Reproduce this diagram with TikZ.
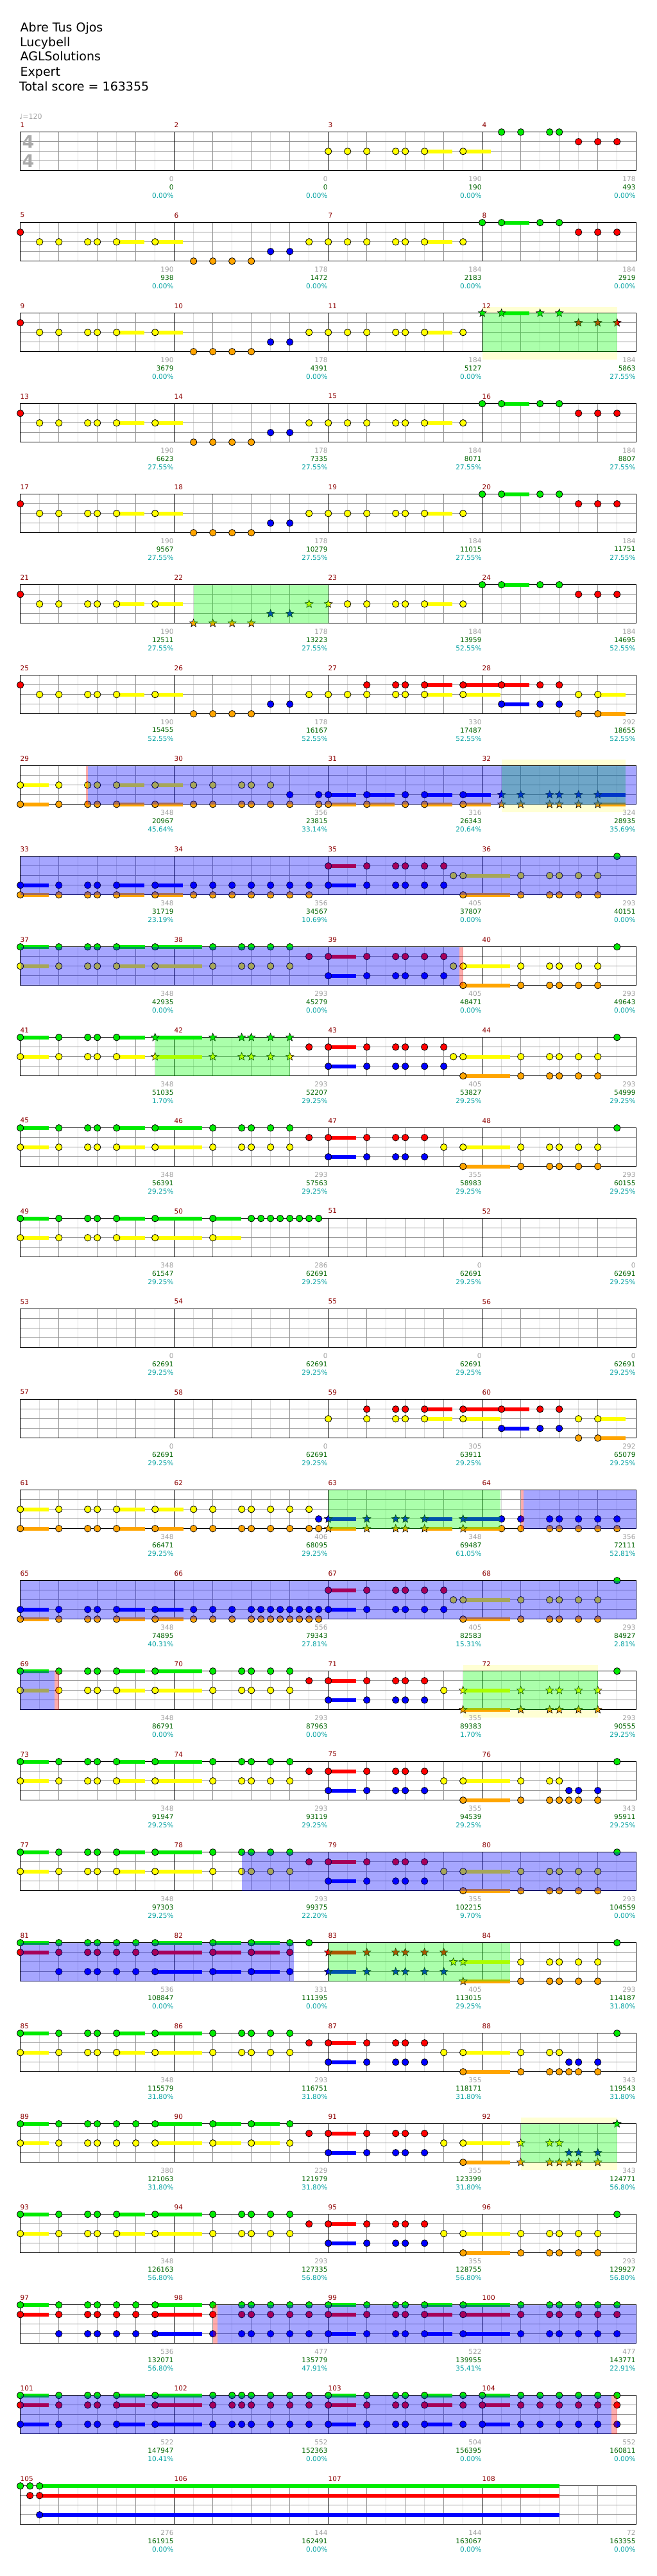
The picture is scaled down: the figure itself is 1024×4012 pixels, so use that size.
\documentclass[tikz,border=0pt]{standalone}
\usepackage{fontspec}
\setmainfont{DejaVu Sans}
\usetikzlibrary{shapes.geometric}
\definecolor{cG}{RGB}{0,235,0}
\definecolor{cR}{RGB}{255,0,0}
\definecolor{cY}{RGB}{255,255,0}
\definecolor{cB}{RGB}{0,0,255}
\definecolor{cO}{RGB}{255,165,0}
\definecolor{mred}{RGB}{139,0,0}
\definecolor{lgray}{RGB}{160,160,160}
\definecolor{lgreen}{RGB}{0,100,0}
\definecolor{lteal}{RGB}{0,160,160}
\definecolor{gridg}{RGB}{150,150,150}
\definecolor{gridl}{RGB}{218,218,218}
\definecolor{ybg}{RGB}{255,255,212}
\definecolor{tsig}{RGB}{170,170,170}
\tikzset{
  notec/.style={draw=black,line width=0.8pt},
  starn/.style={star,star points=5,star point ratio=2.3,minimum size=13pt,inner sep=0pt,draw=black,line width=0.6pt},
  mnum/.style={text=mred,font=\fontsize{10.5}{11}\selectfont,anchor=west,inner sep=0pt},
  lab/.style={font=\fontsize{10.5}{11}\selectfont,anchor=east,inner sep=0pt},
  hdr/.style={font=\fontsize{19}{20}\selectfont,anchor=base west,inner sep=0pt},
  hbeat/.style={draw=gridl,line width=0.8pt},
  laneln/.style={draw=gridg,line width=1pt},
  beatln/.style={draw=gridg,line width=1pt},
  measln/.style={draw=black,line width=1.2pt},
}
\newcommand\Rw[1]{\pgfmathsetmacro\ry{205.7+141*(#1-1)}}
\newcommand\Ln[3]{\foreach \xa/\xb in {#3}{%
  \pgfmathtruncatemacro\hs{(\xb>\xa)}%
  \ifnum\hs=1 \fill[#2] ({31.7+15*\xa},{\ry+15*#1-3.2}) rectangle ({31.7+15*\xb},{\ry+15*#1+3.2});\fi
  \filldraw[notec,fill=#2] ({31.7+15*\xa},{\ry+15*#1}) circle (5.2);}}
\newcommand\Ls[3]{\foreach \xa/\xb in {#3}{%
  \pgfmathtruncatemacro\hs{(\xb>\xa)}%
  \ifnum\hs=1 \fill[#2] ({31.7+15*\xa},{\ry+15*#1-3.2}) rectangle ({31.7+15*\xb},{\ry+15*#1+3.2});\fi
  \node[starn,fill=#2] at ({31.7+15*\xa},{\ry+15*#1}) {};}}
\newcommand\Og[2]{\fill[green,opacity=0.33] ({31.7+15*#1},{\ry}) rectangle ({31.7+15*#2},{\ry+60});}
\newcommand\Ob[2]{\fill[blue,opacity=0.35] ({31.7+15*#1},{\ry}) rectangle ({31.7+15*#2},{\ry+60});}
\newcommand\Op[2]{\fill[red,opacity=0.33] ({31.7+15*#1},{\ry}) rectangle ({31.7+15*#2},{\ry+60});}
\newcommand\Yb[3]{\fill[ybg] ({31.7+15*#2},{205.7+141*(#1-1)-10}) rectangle ({31.7+15*#3},{205.7+141*(#1-1)+72});}
\newcommand\Labs[1]{\foreach \la/\lb/\lc [count=\mi] in {#1}{%
  \node[lab,text=lgray] at ({31.7+240*\mi-1},{\ry+72.5}) {\la};
  \node[lab,text=lgreen] at ({31.7+240*\mi-1},{\ry+85.5}) {\lb};
  \node[lab,text=lteal] at ({31.7+240*\mi-1},{\ry+98.5}) {\lc};}}
% patterns
\newcommand\PA{\Ln{1}{cR}{0}\Ln{2}{cY}{2,4,7,8,10/12.9,14/16.9}\Ln{4}{cO}{18,20,22,24}\Ln{3}{cB}{26,28}}
\newcommand\PB{\Ln{2}{cY}{30,32,34,36,39,40,42/44.9,46}}
\newcommand\PC{\Ln{0}{cG}{48,50/52.9,54,56}\Ln{1}{cR}{58,60,62}}
\newcommand\PD{\Ln{0}{cG}{0/2.95,4,7,8,10/12.95,14/18.9,20,23,24,26,28,62}
  \Ln{2}{cY}{0/2.95,4,7,8,10/12.95,14/18.9,20,23,24,26,28,44,46/50.9,52,55,56,58,60}
  \Ln{1}{cR}{30,32/34.9,36,39,40,42}
  \Ln{3}{cB}{32/34.9,36,39,40,42}
  \Ln{4}{cO}{46/50.9,52,55,56,58,60}}
\newcommand\PE{\Ln{0}{cG}{0/2.95,4,7,8,10/12.95,14/18.9,20,23,24,26,28,62}
  \Ln{2}{cY}{0/2.95,4,7,8,10/12.95,14/18.9,20,23,24,26,28,44,46/50.9,52,55,56}
  \Ln{1}{cR}{30,32/34.9,36,39,40,42}
  \Ln{3}{cB}{32/34.9,36,39,40,42,57,58,60}
  \Ln{4}{cO}{46/50.9,52,55,56,57,58,60}}
\begin{document}
\begin{tikzpicture}[x=1pt,y=-1pt]
\useasboundingbox (0,0) rectangle (1024,4012);
% header
\node[hdr] (t1) at (31.5,49.3) {Abre Tus Ojos};
\node[hdr] (t2) at (31,72.3) {Lucybell};
\node[hdr] (t3) at (31.5,95) {AGLSolutions};
\node[hdr] (t4) at (31.5,118.3) {Expert};
\node[hdr] (t5) at (30,141.7) {Total score = 163355};
\node[anchor=west,inner sep=0pt,text=lgray,font=\fontsize{11}{11}\selectfont] (tempo) at (30,181) {♩=120};
% yellow backgrounds
\Yb{3}{48}{62}
\Yb{8}{50}{62.9}
\Yb{18}{46}{60}
\Yb{23}{52}{62}
% grids
\foreach \r in {1,...,27}{
  \pgfmathsetmacro\yy{205.7+141*(\r-1)}
  \fill[white] (31.7,{\yy}) rectangle (991.7,{\yy+60});
  \foreach \k in {0,...,15} \draw[hbeat] ({31.7+30*(2*\k+1)},{\yy}) -- ++(0,60);
  \foreach \l in {1,2,3} \draw[laneln] (31.7,{\yy+15*\l}) -- (991.7,{\yy+15*\l});
  \foreach \k in {1,2,3,5,6,7,9,10,11,13,14,15} \draw[beatln] ({31.7+60*\k},{\yy}) -- ++(0,60);
  \foreach \k in {1,2,3} \draw[measln] ({31.7+240*\k},{\yy}) -- ++(0,60);
  \draw[measln] (31.7,{\yy}) rectangle (991.7,{\yy+60});
  \foreach \m in {0,1,2,3}{
    \pgfmathtruncatemacro\mn{4*(\r-1)+\m+1}
    \node[mnum] (m\mn) at ({31.5+240*\m},{\yy-11.5}) {\mn};}
}
\node[text=tsig,font=\fontsize{27}{27}\bfseries\selectfont,inner sep=0pt] (ts1) at (44,221) {4};
\node[text=tsig,font=\fontsize{27}{27}\bfseries\selectfont,inner sep=0pt] (ts2) at (44,251) {4};
% row 1
\Rw{1}
\Ln{2}{cY}{32,34,36,39,40,42/44.9,46/48.9}
\Ln{0}{cG}{50,52,55,56}
\Ln{1}{cR}{58,60,62}
\Labs{0/0/0.00\%,0/0/0.00\%,190/190/0.00\%,178/493/0.00\%}
% row 2
\Rw{2}\PA\PB\PC
\Labs{190/938/0.00\%,178/1472/0.00\%,184/2183/0.00\%,184/2919/0.00\%}
% row 3
\Rw{3}\PA\PB
\Ls{0}{cG}{48,50/52.9,54,56}\Ls{1}{cR}{58,60,62}\Og{48}{62}
\Labs{190/3679/0.00\%,178/4391/0.00\%,184/5127/0.00\%,184/5863/27.55\%}
% row 4
\Rw{4}\PA\PB\PC
\Labs{190/6623/27.55\%,178/7335/27.55\%,184/8071/27.55\%,184/8807/27.55\%}
% row 5
\Rw{5}\PA\PB\PC
\Labs{190/9567/27.55\%,178/10279/27.55\%,184/11015/27.55\%,184/11751/27.55\%}
% row 6
\Rw{6}
\Ln{1}{cR}{0}\Ln{2}{cY}{2,4,7,8,10/12.9,14/16.9}
\Ls{4}{cO}{18,20,22,24}\Ls{3}{cB}{26,28}\Ls{2}{cY}{30,32}
\Ln{2}{cY}{34,36,39,40,42/44.9,46}\PC\Og{18}{32}
\Labs{190/12511/27.55\%,178/13223/27.55\%,184/13959/52.55\%,184/14695/52.55\%}
% row 7
\Rw{7}\PA
\Ln{2}{cY}{30,32,34,36,39,40,42/44.9,46/49.9,58,60/62.9}
\Ln{1}{cR}{36,39,40,42/44.9,46/49.9,50/52.9,54,56}
\Ln{3}{cB}{50/52.9,54,56}
\Ln{4}{cO}{58,60/62.9}
\Labs{190/15455/52.55\%,178/16167/52.55\%,330/17487/52.55\%,292/18655/52.55\%}
% row 8
\Rw{8}
\Ln{2}{cY}{0/2.95,4,7,8,10/12.9,14/16.9,18,20,23,24,26}
\Ln{4}{cO}{0/2.95,4,7,8,10/12.9,14/16.9,18,20,23,24,26,28,31,32/34.9,36/38.9,40,42/44.9,46/48.9}
\Ls{4}{cO}{50,52,55,56,58,60/62.9}
\Ln{3}{cB}{28,31,32/34.9,36/38.9,40,42/44.9,46/48.9}
\Ls{3}{cB}{50,52,55,56,58,60/62.9}
\Og{50}{62.9}\Op{6.85}{7.05}\Ob{7.05}{64}
\Labs{348/20967/45.64\%,356/23815/33.14\%,316/26343/20.64\%,324/28935/35.69\%}
% row 9
\Rw{9}
\Ln{3}{cB}{0/2.95,4,7,8,10/12.9,14/16.9,18,20,22,24,26,28,30,32/34.9,36,39,40,42,44}
\Ln{4}{cO}{0/2.95,4,7,8,10/12.9,14/16.9,18,20,22,24,26,28,30,46/50.9,52,55,56,58,60}
\Ln{1}{cR}{32/34.9,36,39,40,42,44}
\Ln{2}{cY}{45,46/50.9,52,55,56,58,60}
\Ln{0}{cG}{62}
\Ob{0}{64}
\Labs{348/31719/23.19\%,356/34567/10.69\%,405/37807/0.00\%,293/40151/0.00\%}
% row 10
\Rw{10}
\Ln{0}{cG}{0/2.95,4,7,8,10/12.95,14/18.9,20,23,24,26,28,62}
\Ln{2}{cY}{0/2.95,4,7,8,10/12.95,14/18.9,20,23,24,26,28,45,46/50.9,52,55,56,58,60}
\Ln{1}{cR}{30,32/34.9,36,39,40,42,44}
\Ln{3}{cB}{32/34.9,36,39,40,42,44}
\Ln{4}{cO}{46/50.9,52,55,56,58,60}
\Ob{0}{45.6}\Op{45.6}{46}
\Labs{348/42935/0.00\%,293/45279/0.00\%,405/48471/0.00\%,293/49643/0.00\%}
% row 11
\Rw{11}
\Ln{0}{cG}{0/2.95,4,7,8,10/12.95,62}\Ls{0}{cG}{14/18.9,20,23,24,26,28}
\Ln{2}{cY}{0/2.95,4,7,8,10/12.95,45,46/50.9,52,55,56,58,60}\Ls{2}{cY}{14/18.9,20,23,24,26,28}
\Ln{1}{cR}{30,32/34.9,36,39,40,42,44}
\Ln{3}{cB}{32/34.9,36,39,40,42,44}
\Ln{4}{cO}{46/50.9,52,55,56,58,60}
\Og{14}{28}
\Labs{348/51035/1.70\%,293/52207/29.25\%,405/53827/29.25\%,293/54999/29.25\%}
% row 12
\Rw{12}\PD
\Labs{348/56391/29.25\%,293/57563/29.25\%,355/58983/29.25\%,293/60155/29.25\%}
% row 13
\Rw{13}
\Ln{0}{cG}{0/2.95,4,7,8,10/12.95,14/18.9,20/22.95,24,25,26,27,28,29,30,31}
\Ln{2}{cY}{0/2.95,4,7,8,10/12.95,14/18.9,20/22.95}
\Labs{348/61547/29.25\%,286/62691/29.25\%,0/62691/29.25\%,0/62691/29.25\%}
% row 14
\Rw{14}
\Labs{0/62691/29.25\%,0/62691/29.25\%,0/62691/29.25\%,0/62691/29.25\%}
% row 15
\Rw{15}
\Ln{2}{cY}{32,36,39,40,42/44.9,46/49.9,58,60/62.9}
\Ln{1}{cR}{36,39,40,42/44.9,46/49.9,50/52.9,54,56}
\Ln{3}{cB}{50/52.9,54,56}
\Ln{4}{cO}{58,60/62.9}
\Labs{0/62691/29.25\%,0/62691/29.25\%,305/63911/29.25\%,292/65079/29.25\%}
% row 16
\Rw{16}
\Ln{2}{cY}{0/2.95,4,7,8,10/12.95,14/16.95,18,20,23,24,26,28,30}
\Ln{4}{cO}{0/2.95,4,7,8,10/12.95,14/16.95,18,20,23,24,26,28,30,31,50,52,55,56,58,60,62}
\Ls{4}{cO}{32/34.9,36,39,40,42/44.9,46/49.9}
\Ln{3}{cB}{31,50,52,55,56,58,60,62}
\Ls{3}{cB}{32/34.9,36,39,40,42/44.9,46/49.9}
\Og{32}{49.9}\Op{52}{52.3}\Ob{52.3}{64}
\Labs{348/66471/29.25\%,406/68095/29.25\%,348/69487/61.05\%,356/72111/52.81\%}
% row 17
\Rw{17}
\Ln{3}{cB}{0/2.95,4,7,8,10/12.95,14/16.95,18,20,22,24,25,26,27,28,29,30,31,32/34.9,36,39,40,42,44}
\Ln{4}{cO}{0/2.95,4,7,8,10/12.95,14/16.95,18,20,22,24,25,26,27,28,29,30,31,46/50.9,52,55,56,58,60}
\Ln{1}{cR}{32/34.9,36,39,40,42,44}
\Ln{2}{cY}{45,46/50.9,52,55,56,58,60}
\Ln{0}{cG}{62}
\Ob{0}{64}
\Labs{348/74895/40.31\%,556/79343/27.81\%,405/82583/15.31\%,293/84927/2.81\%}
% row 18
\Rw{18}
\Ln{0}{cG}{0/2.95,4,7,8,10/12.95,14/18.9,20,23,24,26,28,62}
\Ln{2}{cY}{0/2.95,4,7,8,10/12.95,14/18.9,20,23,24,26,28,44}
\Ls{2}{cY}{46/50.9,52,55,56,58,60}
\Ln{1}{cR}{30,32/34.9,36,39,40,42}
\Ln{3}{cB}{32/34.9,36,39,40,42}
\Ls{4}{cO}{46/50.9,52,55,56,58,60}
\Og{46}{60}\Ob{0}{3.55}\Op{3.55}{4}
\Labs{348/86791/0.00\%,293/87963/0.00\%,355/89383/1.70\%,293/90555/29.25\%}
% row 19
\Rw{19}\PE
\Labs{348/91947/29.25\%,293/93119/29.25\%,355/94539/29.25\%,343/95911/29.25\%}
% row 20
\Rw{20}\PD\Ob{23}{64}
\Labs{348/97303/29.25\%,293/99375/22.20\%,355/102215/9.70\%,293/104559/0.00\%}
% row 21
\Rw{21}
\Ln{0}{cG}{0/2.95,4,7,8,10,12,14/18.9,20/22.95,24/26.95,28,30,62}
\Ln{1}{cR}{0/2.95,4,7,8,10,12,14/18.9,20/22.95,24/26.95,28}
\Ls{1}{cR}{32/34.9,36,39,40,42,44}
\Ln{3}{cB}{4,7,8,10,12,14/18.9,20/22.95,24/26.95,28}
\Ls{3}{cB}{32/34.9,36,39,40,42,44}
\Ls{2}{cY}{45,46/50.9}\Ln{2}{cY}{52,55,56,58,60}
\Ls{4}{cO}{46/50.9}\Ln{4}{cO}{52,55,56,58,60}
\Og{32}{50.9}\Ob{0}{28.4}
\Labs{536/108847/0.00\%,331/111395/0.00\%,405/113015/29.25\%,293/114187/31.80\%}
% row 22
\Rw{22}\PE
\Labs{348/115579/31.80\%,293/116751/31.80\%,355/118171/31.80\%,343/119543/31.80\%}
% row 23
\Rw{23}
\Ln{0}{cG}{0/2.95,4,7,8,10,12,14/18.9,20/22.95,24/26.95,28}\Ls{0}{cG}{62}
\Ln{2}{cY}{0/2.95,4,7,8,10,12,14/18.9,20/22.95,24/26.95,28,44,46/50.9}\Ls{2}{cY}{52,55,56}
\Ln{1}{cR}{30,32/34.9,36,39,40,42}
\Ln{3}{cB}{32/34.9,36,39,40,42}\Ls{3}{cB}{57,58,60}
\Ln{4}{cO}{46/50.9}\Ls{4}{cO}{52,55,56,57,58,60}
\Og{52}{62}
\Labs{380/121063/31.80\%,229/121979/31.80\%,355/123399/31.80\%,343/124771/56.80\%}
% row 24
\Rw{24}\PD
\Labs{348/126163/56.80\%,293/127335/56.80\%,355/128755/56.80\%,293/129927/56.80\%}
% row 25
\Rw{25}
\Ln{0}{cG}{0/2.95,4,7,8,10,12,14/18.9,20,23,24,26,28,30,32/34.9,36,39,40,42/44.9,46/50.9,52,55,56,58,60,62}
\Ln{1}{cR}{0/2.95,4,7,8,10,12,14/18.9,20,23,24,26,28,30,32/34.9,36,39,40,42/44.9,46/50.9,52,55,56,58,60,62}
\Ln{3}{cB}{4,7,8,10,12,14/18.9,20,23,24,26,28,30,32/34.9,36,39,40,42/44.9,46/50.9,52,55,56,58,60,62}
\Op{20}{20.5}\Ob{20.5}{64}
\Labs{536/132071/56.80\%,477/135779/47.91\%,522/139955/35.41\%,477/143771/22.91\%}
% row 26
\Rw{26}
\Ln{0}{cG}{0/2.95,4,7,8,10/12.95,14/18.9,20,22,23,24,26,28,30,32/34.9,36,39,40,42/44.9,46,48/50.9,52,54,56,58,60,62}
\Ln{1}{cR}{0/2.95,4,7,8,10/12.95,14/18.9,20,22,23,24,26,28,30,32/34.9,36,39,40,42/44.9,46,48/50.9,52,54,56,58,60,62}
\Ln{3}{cB}{0/2.95,4,7,8,10/12.95,14/18.9,20,22,23,24,26,28,30,32/34.9,36,39,40,42/44.9,46,48/50.9,52,54,56,58,60,62}
\Ob{0}{61.4}\Op{61.4}{62}
\Labs{522/147947/10.41\%,552/152363/0.00\%,504/156395/0.00\%,552/160811/0.00\%}
% row 27
\Rw{27}
\Ln{0}{cG}{0,1,2/56}\Ln{1}{cR}{1,2/56}\Ln{3}{cB}{2/56}
\Labs{276/161915/0.00\%,144/162491/0.00\%,144/163067/0.00\%,72/163355/0.00\%}
\end{tikzpicture}
\end{document}
